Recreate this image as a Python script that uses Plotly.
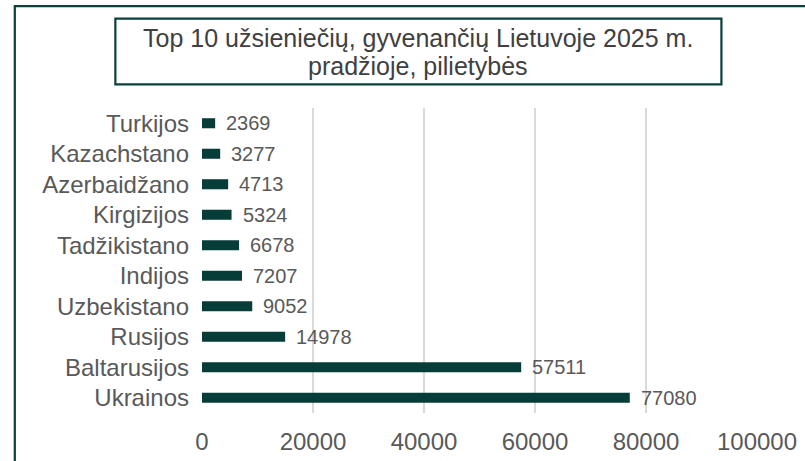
import plotly.graph_objects as go

categories = ["Ukrainos", "Baltarusijos", "Rusijos", "Uzbekistano", "Indijos",
              "Tadžikistano", "Kirgizijos", "Azerbaidžano", "Kazachstano", "Turkijos"]
values = [77080, 57511, 14978, 9052, 7207, 6678, 5324, 4713, 3277, 2369]
x_ticks = [0, 20000, 40000, 60000, 80000, 100000]
title_lines = ["Top 10 užsieniečių, gyvenančių Lietuvoje 2025 m.", "pradžioje, pilietybės"]

BAR = "#073d38"
BORDER = "#0a3f3a"
TXT = "#595959"
FONT = "Liberation Sans, Arial, sans-serif"

fig = go.Figure()
fig.add_trace(go.Bar(
    y=categories, x=values, orientation="h",
    marker=dict(color=BAR, line=dict(width=0)),
    width=0.33, hoverinfo="x+y",
))

for c, v in zip(categories, values):
    fig.add_annotation(x=v, y=c, text=str(v), showarrow=False,
                       xanchor="left", xshift=9, yshift=0,
                       font=dict(family=FONT, size=20, color=TXT))

# outer chart border
fig.add_shape(type="rect", xref="paper", yref="paper",
              x0=-0.3373, x1=1.12, y0=-0.2, y1=1.334,
              line=dict(color=BORDER, width=2.2), fillcolor="rgba(0,0,0,0)", layer="below")
# title box
fig.add_shape(type="rect", xref="paper", yref="paper",
              x0=-0.1561, x1=0.9359, y0=1.0777, y1=1.2931,
              line=dict(color=BORDER, width=2.2), fillcolor="white", layer="below")
title_y = [1.2305, 1.1375]
for line, ty in zip(title_lines, title_y):
    fig.add_annotation(xref="paper", yref="paper", x=0.3897, y=ty,
                       text=line, showarrow=False, xanchor="center", yanchor="middle",
                       font=dict(family=FONT, size=25, color="#404040"))

fig.update_layout(
    width=805, height=461,
    margin=dict(l=202, r=48, t=108, b=48, autoexpand=False),
    paper_bgcolor="white", plot_bgcolor="white",
    showlegend=False,
    font=dict(family=FONT, color=TXT),
    xaxis=dict(range=[0, 100000], tickvals=x_ticks, ticktext=[str(t) for t in x_ticks],
               showgrid=True, gridcolor="#d9d9d9", gridwidth=1.5,
               zeroline=False, showline=False, ticks="", automargin=False,
               tickfont=dict(family=FONT, size=24, color=TXT),
               ticklabelstandoff=12, ticklabeloverflow="allow", fixedrange=True),
    yaxis=dict(showgrid=False, zeroline=False, showline=False, ticks="", automargin=False,
               tickfont=dict(family=FONT, size=24, color=TXT),
               ticklabelstandoff=12, fixedrange=True,
               categoryorder="array", categoryarray=categories),
)

# remove the page's default body margin so the figure fills the window exactly
fig.write_html("out.html",
               config={"displayModeBar": False},
               post_script="document.body.style.margin='0';document.body.style.overflow='hidden';")
